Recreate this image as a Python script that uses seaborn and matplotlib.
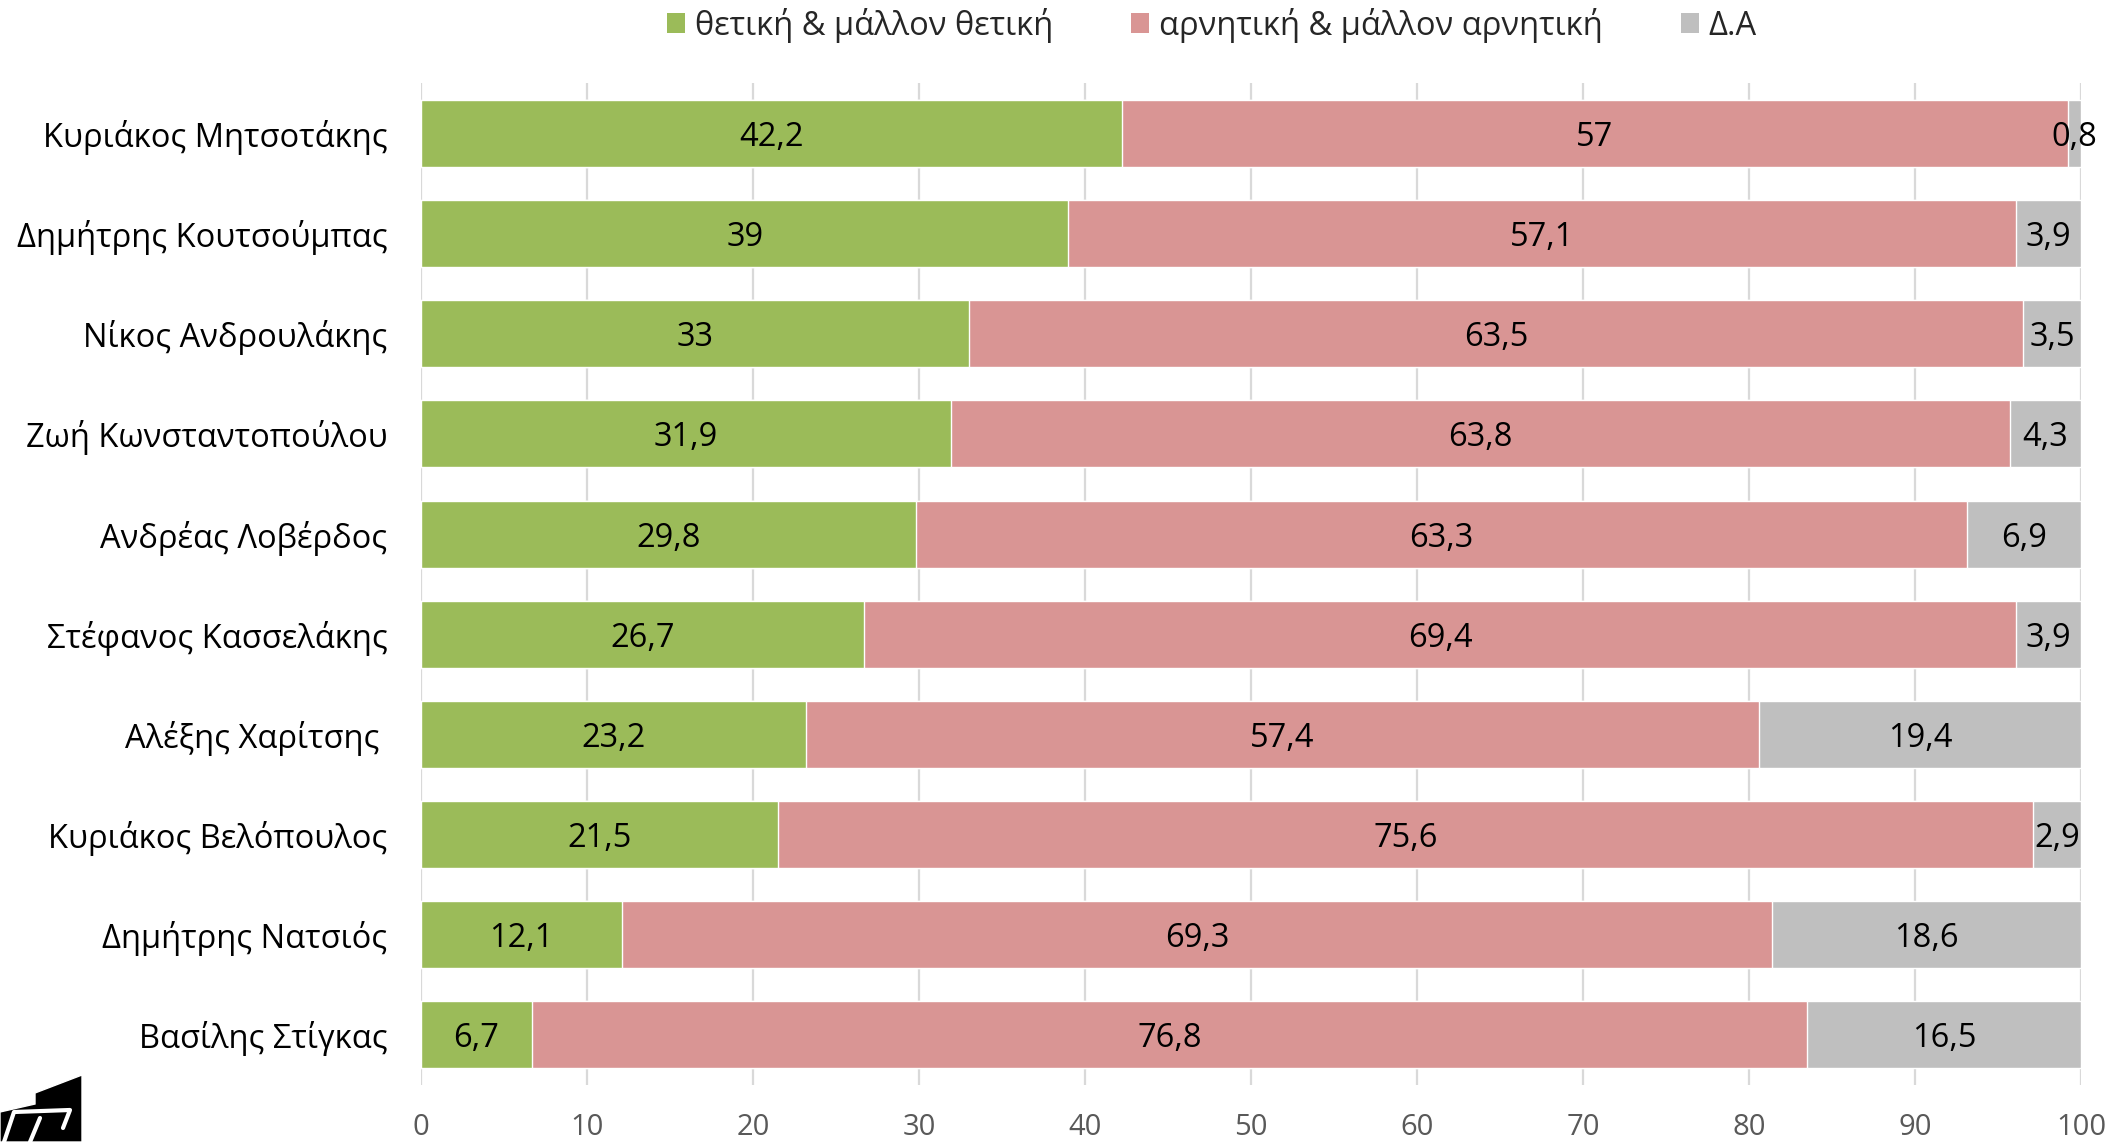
import numpy as np
import pandas as pd
import matplotlib
matplotlib.use('Agg')
import matplotlib.pyplot as plt
from matplotlib.patches import Polygon, Patch
import seaborn as sns

# δεδομένα
names = ['Κυριάκος Μητσοτάκης', 'Δημήτρης Κουτσούμπας', 'Νίκος Ανδρουλάκης',
         'Ζωή Κωνσταντοπούλου', 'Ανδρέας Λοβέρδος', 'Στέφανος Κασσελάκης',
         'Αλέξης Χαρίτσης ', 'Κυριάκος Βελόπουλος', 'Δημήτρης Νατσιός',
         'Βασίλης Στίγκας']
positive = [42.2, 39, 33, 31.9, 29.8, 26.7, 23.2, 21.5, 12.1, 6.7]
negative = [57, 57.1, 63.5, 63.8, 63.3, 69.4, 57.4, 75.6, 69.3, 76.8]
no_answer = [0.8, 3.9, 3.5, 4.3, 6.9, 3.9, 19.4, 2.9, 18.6, 16.5]
series_names = ['θετική & μάλλον θετική', 'αρνητική & μάλλον αρνητική', 'Δ.Α']
colors = ['#9BBB59', '#D99594', '#BFBFBF']
xticks = list(range(0, 101, 10))

df = pd.DataFrame({'name': names, 'pos': positive, 'neg': negative, 'na': no_answer})
df['c1'] = df['pos']
df['c2'] = df['pos'] + df['neg']
df['c3'] = df['pos'] + df['neg'] + df['na']

sns.set_style('white')
plt.rcParams['font.family'] = ['Open Sans', 'Noto Sans', 'DejaVu Sans']

fig = plt.figure(figsize=(21.15, 11.42), dpi=100)
ax = fig.add_axes([0.199, 0.050, 0.785, 0.877])

# στοίβαξη με επικάλυψη αθροισμάτων
for col, c in zip(['c3', 'c2', 'c1'], colors[::-1]):
    sns.barplot(data=df, x=col, y='name', orient='h', color=c, width=0.67,
                saturation=1, ax=ax, zorder=3)

def fmt(v):
    return ('%g' % v).replace('.', ',')

for i, row in df.iterrows():
    left = 0
    for v in [row['pos'], row['neg'], row['na']]:
        ax.text(left + v / 2, i, fmt(v), ha='center', va='center_baseline',
                fontsize=23.5, fontweight='medium', color='black', zorder=5)
        left += v

ax.set_xlim(0, 100)
ax.set_xticks(xticks)
ax.set_xlabel('')
ax.set_ylabel('')
ax.grid(axis='x', color='#D9D9D9', linewidth=1.6, zorder=0)
ax.grid(axis='y', visible=False)
for s in ax.spines.values():
    s.set_visible(False)
ax.tick_params(axis='x', length=0, pad=20, labelsize=21, labelcolor='#595959')
ax.tick_params(axis='y', length=0, pad=24, labelsize=23.5, labelcolor='black')

handles = [Patch(facecolor=c, edgecolor='none') for c in colors]
fig.legend(handles, series_names, loc='center', bbox_to_anchor=(0.573, 0.978),
           ncol=3, frameon=False, fontsize=23.5, handlelength=0.55, handleheight=0.55,
           handletextpad=0.3, columnspacing=2.4)

# λογότυπο κάτω αριστερά
W, H = 2115, 1142
def fc(pts):
    return [(x / W, 1 - y / H) for x, y in pts]
fig.patches.append(Polygon(fc([(0, 1142), (0, 1112), (35, 1104), (35, 1093), (82, 1075), (82, 1142)]),
                           closed=True, facecolor='black', transform=fig.transFigure))
fig.lines.append(plt.Line2D(*zip(*fc([(4, 1142), (14, 1112), (70, 1110), (63, 1128)])),
                            color='white', linewidth=3, transform=fig.transFigure))
fig.lines.append(plt.Line2D(*zip(*fc([(30, 1142), (40, 1118)])),
                            color='white', linewidth=3, transform=fig.transFigure))

fig.savefig('out.png', dpi=100)
